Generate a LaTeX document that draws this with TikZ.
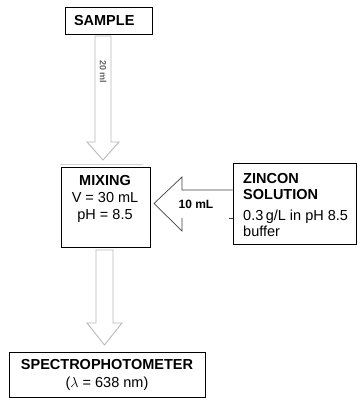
\documentclass[tikz,border=0pt]{standalone}
\usepackage{fontspec}
\setmainfont{Liberation Sans}
\begin{document}
\begin{tikzpicture}[x=1pt, y=-1pt,
    box/.style={draw, line width=0.8pt, inner sep=0pt},
    flowarrow/.style={draw=gray!55, line width=0.9pt, line join=miter},
    feedarrow/.style={draw=black!75, line width=0.7pt, line join=miter},
    heading/.style={font=\bfseries\fontsize{14.5}{17}\selectfont}]
    \useasboundingbox (0,0) rectangle (357,398);
    % Boxes
    \node[box, heading, minimum width=87pt, minimum height=27pt, text width=69pt,
          inner xsep=9pt, align=left] (sample) at (108.5,20.5) {SAMPLE};
    \node[box, minimum width=89pt, minimum height=80pt] (mixing) at (105.5,207) {};
    \draw[gray!35, line width=0.8pt] (60,164) -- (143,164);
    \node[anchor=north, align=center, inner sep=0pt,
          font=\fontsize{14.5}{17}\selectfont] (mixtext) at (105,175)
          {\textbf{MIXING}\\V = 30 mL\\pH = 8.5};
    \node[box, minimum width=123pt, minimum height=81pt] (zincon) at (294.5,203.5) {};
    \node[anchor=north west, align=left, inner sep=0pt,
          font=\fontsize{14.5}{16}\selectfont] (zintext) at (243,173)
          {\textbf{ZINCON}\\\textbf{SOLUTION}\\[5pt]0.3\,g/L in pH 8.5\\buffer};
    \node[box, minimum width=196pt, minimum height=45pt, align=center,
          font=\fontsize{14.5}{18}\selectfont] (spectro) at (107,374.5)
          {\textbf{SPECTROPHOTOMETER}\\($\lambda$ = 638 nm)};
    % Gray block arrows down
    \foreach \cx/\ytop/\ybase/\ytip/\hw/\sw in {103/36/142/160/16/8, 104.5/250/323/345/17.5/8.5}
        \draw[flowarrow] (\cx-\sw,\ytop) -- (\cx-\sw,\ybase) -- (\cx-\hw,\ybase)
            -- (\cx,\ytip) -- (\cx+\hw,\ybase) -- (\cx+\sw,\ybase) -- (\cx+\sw,\ytop) -- cycle;
    \node[rotate=-90, text=black!60, font=\bfseries\fontsize{9}{10}\selectfont]
        (twenty) at (103,72) {20 ml};
    % Reagent arrow from the left side of the zincon box
    \draw[feedarrow] (zincon.west |- 0,190) -- (182,190) -- (182,177) -- (154,203.5)
        -- (182,231) -- (182,218);
    \draw[feedarrow] (229,218) -- (zincon.west |- 0,218);
    \node[font=\bfseries\fontsize{12}{14}\selectfont] (ten) at (196,204) {10 mL};
\end{tikzpicture}
\end{document}
